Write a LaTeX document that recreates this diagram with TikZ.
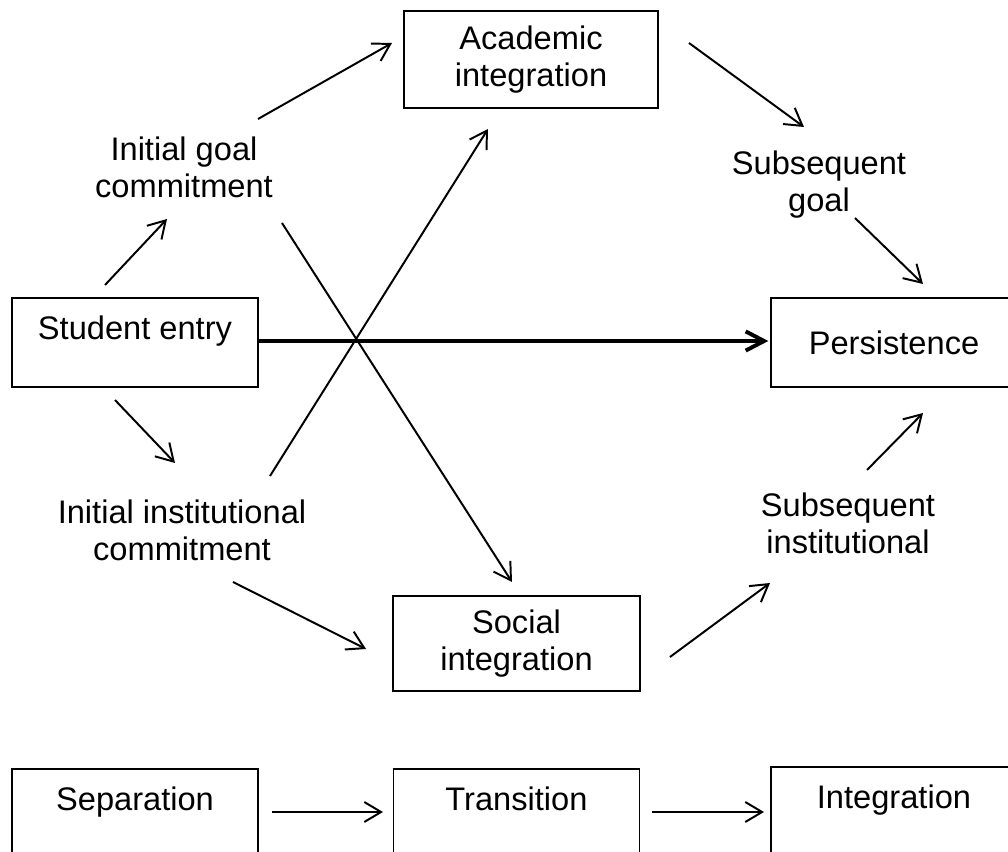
\documentclass[tikz,border=0pt]{standalone}
\usepackage{fontspec}
\setmainfont{Liberation Sans}
\usetikzlibrary{arrows.meta}

\begin{document}
\begin{tikzpicture}[
  x=0.025cm, y=-0.025cm,
  font=\fontsize{23.2}{26.3}\selectfont,
  box/.style={draw,line width=0.9pt,inner sep=0pt,minimum width=6.15cm,minimum height=2.225cm,align=center},
  topbox/.style={box,text height=0.59cm,text depth=0.73cm},
  factor/.style={inner sep=0pt,align=center},
  link/.style={-{Straight Barb[length=4.2mm,width=5mm]},line width=1.4pt},
  mainlink/.style={-{Straight Barb[length=4.6mm,width=4.8mm]},line width=2.8pt}]

  \useasboundingbox (0,0) rectangle (1008,852);

  % Position the nodes at the coordinates of the figure
  \node[box,minimum width=6.35cm,minimum height=2.425cm] (academic) at (531,59.5) {Academic\\integration};
  \node[topbox] (entry) at (135,342.5) {Student entry};
  \node[box] (persist) at (894,342.5) {Persistence};
  \node[box,minimum width=6.175cm,minimum height=2.375cm] (social) at (516.5,643.5) {Social\\integration};

  \node[factor] (goal) at (184,167) {Initial goal\\commitment};
  \node[factor] (subgoal) at (819,185) {Subsequent\\goal};
  \node[factor] (inst) at (182,530) {Initial institutional\\commitment};
  \node[factor] (subinst) at (848,523) {Subsequent\\institutional};

  \node[topbox] (separation) at (135,813.5) {Separation};
  \node[topbox] (transition) at (516.5,813.5) {Transition};
  \node[topbox] (integration) at (894,811.5) {Integration};

  % Draw the arrows between the nodes
  \draw[link] ([shift={(-30,-57.5)}]entry.center) -- ([shift={(-17,52)}]goal.center);
  \draw[link] ([shift={(74,-48)}]goal.center) -- ([shift={(-139,-16.5)}]academic.center);
  \draw[link] ([shift={(158,-16.5)}]academic.center) -- ([shift={(-15,-58)}]subgoal.center);
  \draw[link] ([shift={(36,33)}]subgoal.center) -- ([shift={(29,-58.5)}]persist.center);

  \draw[mainlink] ([shift={(0,-1.5)}]entry.east) -- ([shift={(-2,-1.5)}]persist.west);

  \draw[link] ([shift={(-20,57.5)}]entry.center) -- ([shift={(-7,-67)}]inst.center);
  \draw[link] ([shift={(88,-54)}]inst.center) -- ([shift={(-43,69.5)}]academic.center);
  \draw[link] ([shift={(98,56)}]goal.center) -- ([shift={(-4.5,-61.5)}]social.center);
  \draw[link] ([shift={(51,52)}]inst.center) -- ([shift={(-150.5,5.5)}]social.center);
  \draw[link] ([shift={(153.5,13.5)}]social.center) -- ([shift={(-78,60)}]subinst.center);
  \draw[link] ([shift={(19,-53)}]subinst.center) -- ([shift={(29,70.5)}]persist.center);

  \draw[link] ([shift={(137,-1.5)}]separation.center) -- ([shift={(-133.5,-1.5)}]transition.center);
  \draw[link] ([shift={(135.5,-1.5)}]transition.center) -- ([shift={(-130,0.5)}]integration.center);
\end{tikzpicture}
\end{document}
